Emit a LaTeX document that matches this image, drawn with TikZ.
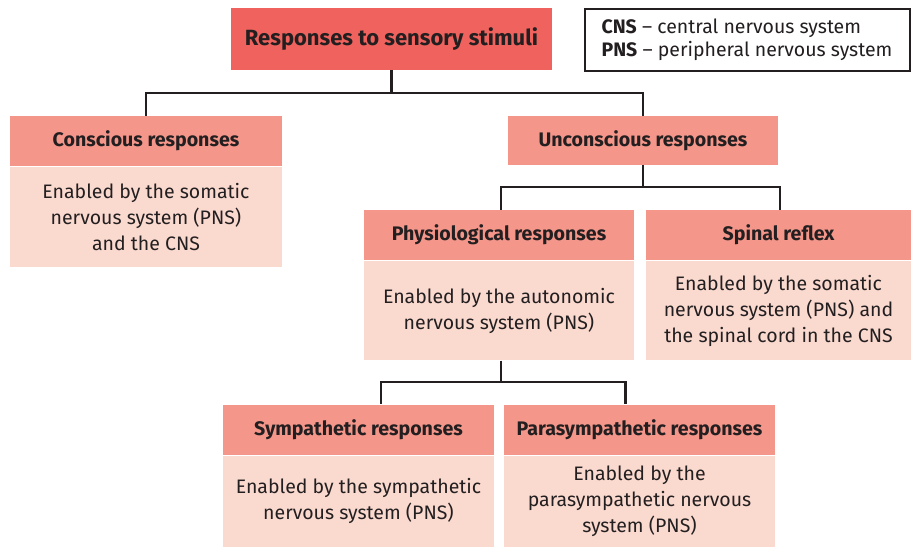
\documentclass[tikz,border=0pt]{standalone}
\usepackage{fontspec}
\setmainfont{Fira Sans}
\usetikzlibrary{positioning}

\definecolor{titlered}{HTML}{F0625D}
\definecolor{headpink}{HTML}{F5968A}
\definecolor{bodypink}{HTML}{FAD9CF}
\definecolor{ink}{HTML}{231F20}

\tikzset{
  box/.style={inner sep=0pt, text=ink, align=center},
  titlebox/.style={box, fill=titlered, minimum width=321pt, minimum height=62pt,
    font=\fontsize{22}{24}\selectfont\bfseries},
  headbox/.style={box, fill=headpink, minimum width=271pt, minimum height=50pt,
    font=\fontsize{19.6}{22}\selectfont\bfseries},
  bodybox/.style={box, fill=bodypink, minimum width=271pt, minimum height=100pt,
    font=\fontsize{19.5}{26}\selectfont},
  keybox/.style={box, draw=ink, line width=2pt, fill=white, align=left,
    minimum width=325pt, minimum height=62pt, font=\fontsize{19.5}{23}\selectfont},
  link/.style={draw=ink, line width=2.4pt},
}

\begin{document}
\begin{tikzpicture}[x=1pt, y=-1pt, node distance=1pt]
	\useasboundingbox (0,0) rectangle (911,547);

	% top level
	\node[titlebox] (stimuli) at (391.5,39) {Responses to sensory stimuli};
	\node[keybox] (key) at (747,39.5) {\textbf{CNS} -- central nervous system\\
		\textbf{PNS} -- peripheral nervous system};

	% second level
	\node[headbox, minimum width=272pt] (consc) at (146,141) {Conscious responses};
	\node[bodybox, minimum width=272pt] (conscbody) [below=of consc]
		{Enabled by the somatic\\nervous system (PNS)\\and the CNS};
	\node[headbox, minimum width=270pt, minimum height=49pt] (unconsc) at (643,140.5)
		{Unconscious responses};

	% unconscious branch
	\node[headbox, minimum width=270pt] (physio) at (499,235) {Physiological responses};
	\node[bodybox, minimum width=270pt, minimum height=99pt] (physiobody) [below=of physio]
		{Enabled by the autonomic\\nervous system (PNS)};
	\node[headbox, minimum width=265pt] (spinal) at (778.5,235) {Spinal reflex};
	\node[bodybox, minimum width=265pt, minimum height=99pt] (spinalbody) [below=of spinal]
		{Enabled by the somatic\\nervous system (PNS) and\\the spinal cord in the CNS};

	% autonomic branch
	\node[headbox] (symp) at (358.5,429.5) {Sympathetic responses};
	\node[bodybox, minimum height=91pt] (sympbody) [below=of symp]
		{Enabled by the sympathetic\\nervous system (PNS)};
	\node[headbox] (para) at (639.5,429.5) {Parasympathetic responses};
	\node[bodybox, minimum height=91pt] (parabody) [below=of para]
		{Enabled by the\\parasympathetic nervous\\system (PNS)};

	% connectors
	\coordinate (j1) at (391.5,93);
	\coordinate (j2) at (643,187);
	\coordinate (j3) at (501,382);
	\draw[link] (stimuli.south) -- (j1) -| (consc.north);
	\draw[link] (j1) -| (unconsc.north);
	\draw[link] (unconsc.south) -- (j2) -| ([xshift=2pt]physio.north);
	\draw[link] (j2) -| ([xshift=1.5pt]spinal.north);
	\draw[link] ([xshift=2pt]physiobody.south) -- (j3) -| ([xshift=22.5pt]symp.north);
	\draw[link] (j3) -| ([xshift=-14pt]para.north);
\end{tikzpicture}
\end{document}
